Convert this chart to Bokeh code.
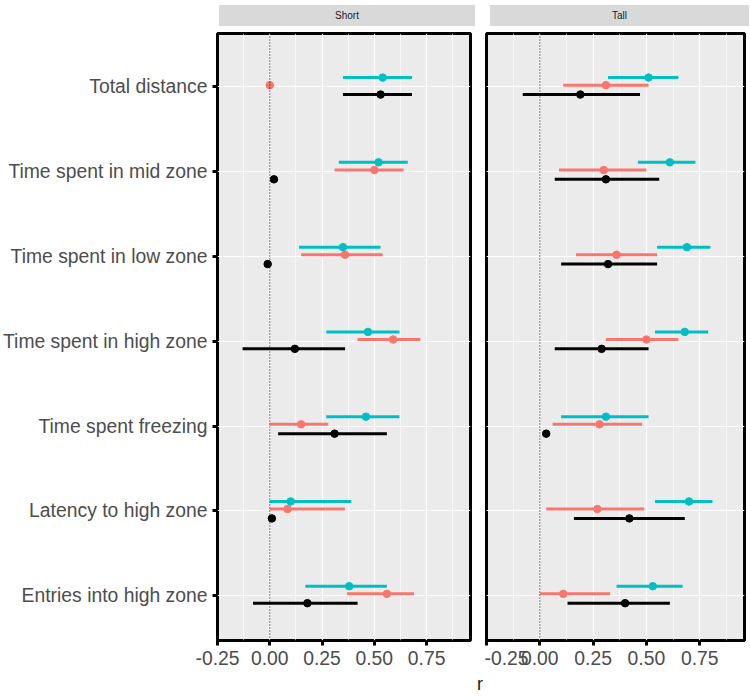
from bokeh.plotting import figure
from bokeh.models import ColumnDataSource, FixedTicker, Span, Div
from bokeh.layouts import row, column
from bokeh.embed import file_html
from bokeh.resources import INLINE

# measures, top to bottom
measures = ["Total distance", "Time spent in mid zone", "Time spent in low zone",
            "Time spent in high zone", "Time spent freezing", "Latency to high zone",
            "Entries into high zone"]

# Short panel: teal, red, black series (r, lower CI, upper CI); None = no CI drawn
short_teal = [0.54, 0.52, 0.35, 0.47, 0.46, 0.10, 0.38]
short_teal_lo = [0.35, 0.33, 0.14, 0.27, 0.27, 0.00, 0.17]
short_teal_hi = [0.68, 0.66, 0.53, 0.62, 0.62, 0.39, 0.56]
short_red = [0.00, 0.50, 0.36, 0.59, 0.15, 0.085, 0.56]
short_red_lo = [None, 0.31, 0.15, 0.42, 0.00, 0.00, 0.37]
short_red_hi = [None, 0.64, 0.54, 0.72, 0.28, 0.36, 0.69]
short_black = [0.53, 0.02, -0.01, 0.12, 0.31, 0.01, 0.18]
short_black_lo = [0.35, None, None, -0.13, 0.04, None, -0.08]
short_black_hi = [0.68, None, None, 0.36, 0.56, None, 0.42]

# Tall panel
tall_teal = [0.51, 0.61, 0.69, 0.68, 0.31, 0.70, 0.53]
tall_teal_lo = [0.32, 0.46, 0.55, 0.54, 0.10, 0.54, 0.36]
tall_teal_hi = [0.65, 0.73, 0.80, 0.79, 0.51, 0.81, 0.67]
tall_red = [0.31, 0.30, 0.36, 0.50, 0.28, 0.27, 0.11]
tall_red_lo = [0.11, 0.09, 0.17, 0.31, 0.06, 0.03, 0.00]
tall_red_hi = [0.51, 0.50, 0.55, 0.65, 0.48, 0.49, 0.33]
tall_black = [0.19, 0.31, 0.32, 0.29, 0.03, 0.42, 0.40]
tall_black_lo = [-0.08, 0.07, 0.10, 0.07, None, 0.16, 0.13]
tall_black_hi = [0.47, 0.56, 0.55, 0.51, None, 0.68, 0.61]

TEAL, RED, BLACK = "#00BFC4", "#F8766D", "#000000"
n = len(measures)
ypos = [n - 1 - i for i in range(n)]


def panel(series, width, show_y):
    p = figure(width=width, height=636, x_range=(-0.25, 0.96), y_range=(-0.53, 6.63),
               output_backend="svg", toolbar_location=None,
               min_border_left=2 if not show_y else 0, min_border_right=2,
               min_border_top=2, min_border_bottom=0)
    p.background_fill_color = "#EBEBEB"
    p.outline_line_color = "black"
    p.outline_line_width = 3
    p.xaxis.ticker = FixedTicker(ticks=[-0.25, 0, 0.25, 0.5, 0.75],
                                 minor_ticks=[-0.125, 0.125, 0.375, 0.625, 0.875])
    p.xaxis.major_label_overrides = {-0.25: "-0.25", 0: "0.00", 0.25: "0.25",
                                     0.5: "0.50", 0.75: "0.75"}
    p.xaxis.minor_tick_line_color = None
    p.yaxis.ticker = FixedTicker(ticks=ypos)
    p.yaxis.major_label_overrides = {y: m for y, m in zip(ypos, measures)}
    p.yaxis.minor_tick_line_color = None
    for ax in (p.xaxis, p.yaxis):
        ax.axis_line_color = None
        ax.major_tick_line_color = "black"
        ax.major_tick_line_width = 3
        ax.major_tick_in = 0
        ax.major_tick_out = 5
        ax.major_label_text_font = "Liberation Sans"
        ax.major_label_text_font_size = "14.5pt"
        ax.major_label_text_color = "#4D4D4D"
    p.yaxis.visible = show_y
    p.xgrid.grid_line_color = "white"
    p.xgrid.grid_line_width = 1.2
    p.xgrid.minor_grid_line_color = "white"
    p.xgrid.minor_grid_line_width = 0.6
    p.ygrid.grid_line_color = "white"
    p.ygrid.grid_line_width = 1.2
    p.add_layout(Span(location=0, dimension="height", line_color="black",
                      line_dash="1 2", line_width=1))
    for (vals, lo, hi, color, off) in series:
        y = [v + off for v in ypos]
        seg = [(l, h, yy) for l, h, yy in zip(lo, hi, y) if l is not None]
        src = ColumnDataSource(dict(x0=[s[0] for s in seg], x1=[s[1] for s in seg],
                                    y=[s[2] for s in seg]))
        p.segment(x0="x0", y0="y", x1="x1", y1="y", source=src,
                  line_color=color, line_width=3)
        p.scatter(vals, y, size=7.5, color=color)
    return p


def strip(text, width, pad):
    return Div(text=f'<div style="margin-left:{pad}px;width:{width - pad - 2}px;'
                    'height:21px;line-height:21px;background:#D9D9D9;text-align:center;'
                    'font-family:Liberation Sans;font-size:10px;color:#1A1A1A">'
                    f'{text}</div>', width=width, height=21)


p1 = panel([(short_teal, short_teal_lo, short_teal_hi, TEAL, 0.11),
            (short_red, short_red_lo, short_red_hi, RED, 0.02),
            (short_black, short_black_lo, short_black_hi, BLACK, -0.09)],
           472, True)
p2 = panel([(tall_teal, tall_teal_lo, tall_teal_hi, TEAL, 0.11),
            (tall_red, tall_red_lo, tall_red_hi, RED, 0.02),
            (tall_black, tall_black_lo, tall_black_hi, BLACK, -0.09)],
           262, False)
s1 = strip("Short", 472, 214)
s2 = strip("Tall", 262, 1)
lab = Div(text="r", width=734, height=22,
          styles={"text-align": "center", "font-family": "Liberation Sans",
                  "font-size": "18px", "color": "#1A1A1A", "padding-left": "216px"})
layout = column(row(column(s1, p1, spacing=0), column(s2, p2, spacing=0), spacing=2),
                lab, spacing=0)
open("out.html", "w").write(file_html(layout, INLINE))
